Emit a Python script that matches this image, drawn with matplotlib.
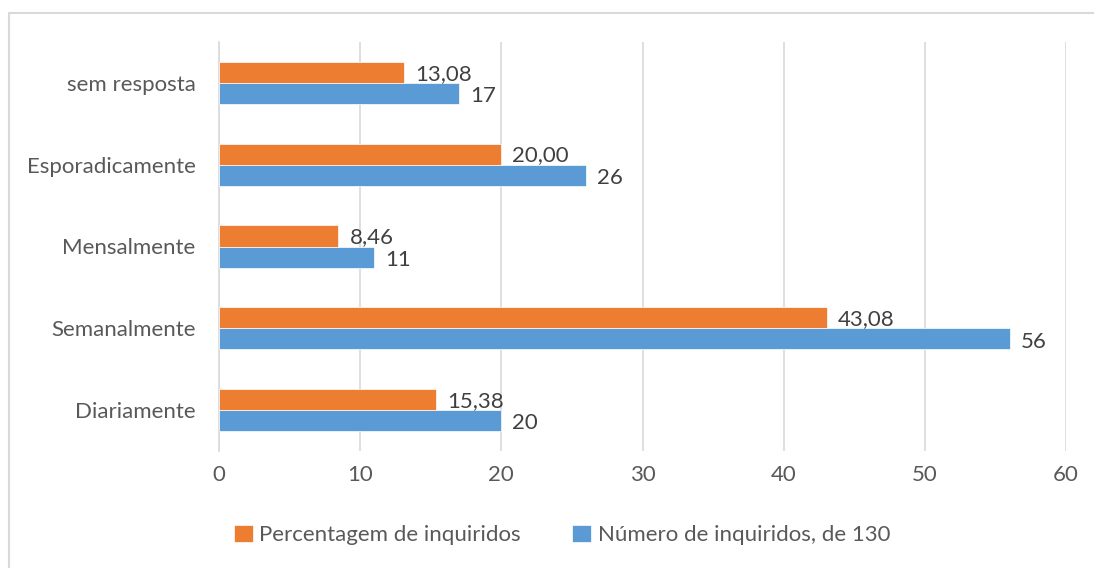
import matplotlib.pyplot as plt
from matplotlib.patches import Rectangle
import numpy as np

plt.rcParams['font.family'] = ['Lato', 'DejaVu Sans']

categories = ['Diariamente', 'Semanalmente', 'Mensalmente', 'Esporadicamente', 'sem resposta']
numero = [20, 56, 11, 26, 17]
percent = [15.38, 43.08, 8.46, 20.00, 13.08]
percent_labels = ['15,38', '43,08', '8,46', '20,00', '13,08']
xticks = [0, 10, 20, 30, 40, 50, 60]

orange = '#ED7D31'
blue = '#5B9BD5'
text_col = '#595959'
label_col = '#404040'
grid_col = '#D9D9D9'
fs = 16

W, H = 1094, 568
fig = plt.figure(figsize=(W / 100, H / 100), dpi=100)
# chart border (runs off the right and bottom edges, as in the screenshot)
fig.patches.append(Rectangle((9 / W, -10 / H), (W + 20) / W, (H - 13 + 10) / H, transform=fig.transFigure,
                             fill=False, edgecolor=grid_col, linewidth=1.5))

ax = fig.add_axes([219 / W, 1 - 451 / H, (1066 - 219) / W, (451 - 42) / H])

y = np.arange(len(categories))
h = 0.257
ax.barh(y - h / 2, numero, height=h, color=blue, edgecolor='white', linewidth=0.5,
        label='Número de inquiridos, de 130', zorder=3)
ax.barh(y + h / 2, percent, height=h, color=orange, edgecolor='white', linewidth=0.5,
        label='Percentagem de inquiridos', zorder=3)

for i in range(len(categories)):
    ax.annotate(str(numero[i]), (numero[i], y[i] - h / 2), xytext=(8, -2), textcoords='offset points',
                ha='left', va='center', fontsize=fs, color=label_col)
    ax.annotate(percent_labels[i], (percent[i], y[i] + h / 2), xytext=(8, -1), textcoords='offset points',
                ha='left', va='center', fontsize=fs, color=label_col)

ax.set_xlim(0, 60)
ax.set_ylim(-0.5, len(categories) - 0.5)
ax.set_xticks(xticks)
ax.set_xticklabels([str(t) for t in xticks])
ax.set_yticks(y)
ax.set_yticklabels(categories)
ax.tick_params(axis='both', length=0, labelsize=fs, colors=text_col)
ax.tick_params(axis='x', pad=10)
ax.tick_params(axis='y', pad=17)
ax.grid(axis='x', color=grid_col, linewidth=1.2, zorder=0)
for s in ['top', 'right', 'bottom']:
    ax.spines[s].set_visible(False)
ax.spines['left'].set_color(grid_col)
ax.spines['left'].set_linewidth(1.2)

handles, labels = ax.get_legend_handles_labels()
fig.legend(handles[::-1], labels[::-1], loc='center', bbox_to_anchor=(562 / W, 1 - 535 / H),
           ncol=2, frameon=False, fontsize=fs, labelcolor=text_col,
           handlelength=0.85, handleheight=0.85, handletextpad=0.3, columnspacing=2.3)

fig.savefig('out.png', dpi=100)
